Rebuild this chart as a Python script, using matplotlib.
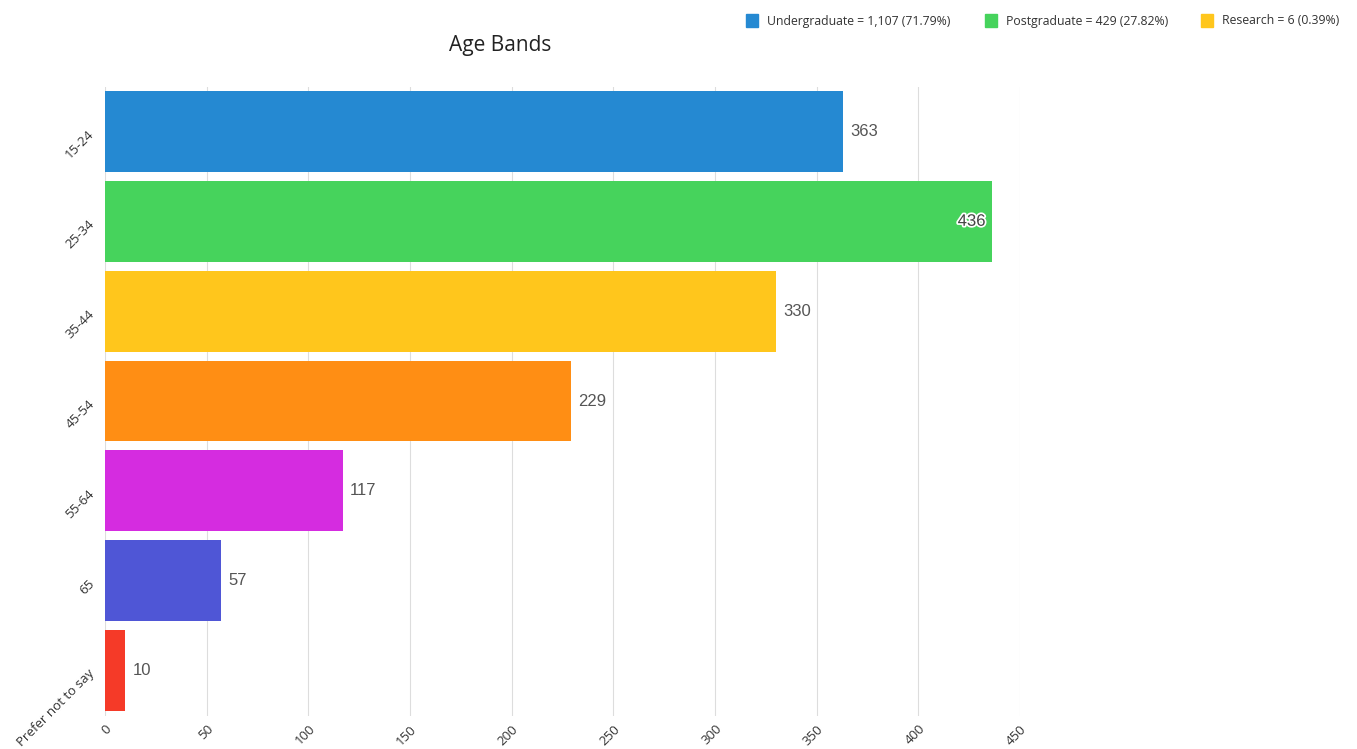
import matplotlib.pyplot as plt
import matplotlib.patheffects as pe
from matplotlib.patches import Rectangle

categories = ["15-24", "25-34", "35-44", "45-54", "55-64", "65", "Prefer not to say"]
counts = [363, 436, 330, 229, 117, 57, 10]
bar_colors = ["#2589d2", "#46d35c", "#ffc61c", "#ff8e14", "#d52ce0", "#4f56d6", "#f53a28"]

legend_labels = ["Undergraduate = 1,107 (71.79%)", "Postgraduate = 429 (27.82%)", "Research = 6 (0.39%)"]
legend_colors = ["#2589d2", "#46d35c", "#ffc61c"]
legend_x = [0.550, 0.726, 0.885]

x_ticks = [0, 50, 100, 150, 200, 250, 300, 350, 400, 450]

fig = plt.figure(figsize=(13.57, 7.49), dpi=100)
ax = fig.add_axes([105 / 1357, 1 - 715.5 / 749, 915 / 1357, 629 / 749])

y = list(range(len(categories)))
ax.barh(y, counts, height=0.9, color=bar_colors, zorder=2)

for yi, v in zip(y, counts):
    if v > 420:
        ax.text(v - 3, yi, str(v), ha="right", va="center", fontsize=12,
                family="Liberation Sans", color="#444444", zorder=3,
                path_effects=[pe.withStroke(linewidth=2.5, foreground="white")])
    else:
        ax.text(v + 3.5, yi, str(v), ha="left", va="center", fontsize=12,
                family="Liberation Sans", color="#555555", zorder=3)

ax.set_xlim(0, 450)
ax.set_ylim(6.5, -0.5)
ax.set_xticks(x_ticks)
ax.set_xticklabels([str(t) for t in x_ticks], rotation=45, ha="right",
                   rotation_mode="anchor", fontsize=9.5, family="Open Sans", color="#333333")
ax.set_yticks(y)
ax.set_yticklabels(categories, rotation=45, ha="right", rotation_mode="anchor",
                   fontsize=9.5, family="Open Sans", color="#333333")
ax.tick_params(axis="x", length=0, pad=5)
ax.tick_params(axis="y", length=0, pad=10)
ax.grid(axis="x", color="#dddddd", linewidth=0.8, zorder=0)
for s in ax.spines.values():
    s.set_visible(False)

fig.text(500 / 1357, 1 - 46 / 749, "Age Bands", ha="center", va="center",
         fontsize=15, family="Open Sans", color="#222222")

for lx, lab, col in zip(legend_x, legend_labels, legend_colors):
    fig.patches.append(Rectangle((lx, 1 - 27 / 749), 12 / 1357, 13 / 749,
                                 transform=fig.transFigure, color=col))
    fig.text(lx + 21 / 1357, 1 - 21 / 749, lab, ha="left", va="center",
             fontsize=8.8, family="Open Sans", color="#333333")

fig.savefig("out.png", dpi=100, facecolor="white")
